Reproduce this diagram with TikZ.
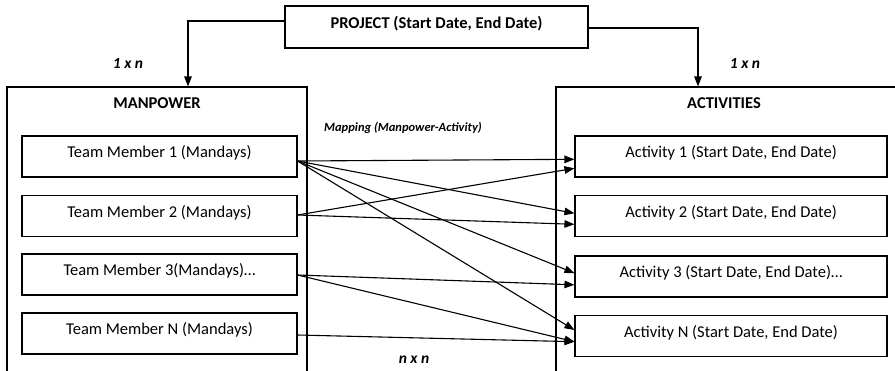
\documentclass[tikz,border=0pt]{standalone}
\usepackage{fontspec}
\setmainfont{Carlito}
\usetikzlibrary{arrows.meta}
\begin{document}
\begin{tikzpicture}[x=1pt,y=-1pt,
  every node/.style={inner sep=0pt},
  box/.style={draw, line width=1.1pt, font=\fontsize{16.5}{20}\selectfont,
    text height=10pt, text depth=8pt},
  itembox/.style={box, minimum height=41pt},
  container/.style={draw, line width=1.1pt},
  title/.style={font=\fontsize{16.5}{20}\selectfont\bfseries},
  card/.style={font=\fontsize{15.5}{18}\selectfont\bfseries\itshape},
  link/.style={line width=1.1pt, -{Triangle[length=10pt,width=7.5pt]}},
]
\useasboundingbox (0,0) rectangle (895,370);
\clip (0,0) rectangle (895,370);

% project box on top
\node[box, title, minimum width=303pt, minimum height=42pt] (project) at (436.5,27) {PROJECT (Start Date, End Date)};

% the two open containers
\node[container, minimum width=300pt, minimum height=333pt] (manpower) at (157,253.5) {};
\node[container, minimum width=354pt, minimum height=333pt] (activities) at (733,253.5) {};
\node[title] (mplabel) at (157,103) {MANPOWER};
\node[title] (aclabel) at (724,103) {ACTIVITIES};

% team members
\node[itembox, minimum width=275pt] (tm1) at (159.5,156.5) {Team Member 1 (Mandays)};
\node[itembox, minimum width=275pt] (tm2) at (159.5,216) {Team Member 2 (Mandays)};
\node[itembox, minimum width=275pt] (tm3) at (159.5,274.5) {Team Member 3(Mandays)…};
\node[itembox, minimum width=275pt] (tm4) at (159.5,333.5) {Team Member N (Mandays)};

% activities
\node[itembox, minimum width=312pt] (a1) at (731,156.5) {Activity 1 (Start Date, End Date)};
\node[itembox, minimum width=312pt] (a2) at (731,216) {Activity 2 (Start Date, End Date)};
\node[itembox, minimum width=312pt] (a3) at (731,276.5) {Activity 3 (Start Date, End Date)…};
\node[itembox, minimum width=312pt] (a4) at (731,336) {Activity N (Start Date, End Date)};

% cardinality labels
\node[card] (cleft) at (128,63) {1 x n};
\node[card] (cright) at (745,63) {1 x n};
\node[card] (cmap) at (414,360) {n x n};
\node[font=\fontsize{12.5}{15}\selectfont\bfseries\itshape] (maplabel) at (403,128) {Mapping (Manpower-Activity)};

% project to containers
\draw[link] ([yshift=6pt]project.west) -| ([xshift=31pt]manpower.north);
\draw[link] ([yshift=-1pt]project.east) -| ([xshift=-35pt]activities.north);

% member-to-activity mapping
\draw[link] ([yshift=-4.5pt]tm1.east) -- ([yshift=-2.8pt]a1.west);
\draw[link] ([yshift=-4.5pt]tm1.east) -- ([yshift=2.7pt]a2.west);
\draw[link] ([yshift=-4.5pt]tm1.east) -- ([yshift=3.4pt]a3.west);
\draw[link] ([yshift=-4.5pt]tm1.east) -- ([yshift=6pt]a4.west);
\draw[link] ([yshift=1pt]tm2.east) -- ([yshift=-11.8pt]a1.west);
\draw[link] ([yshift=1pt]tm2.east) -- ([yshift=-8.3pt]a2.west);
\draw[link] ([yshift=-0.5pt]tm3.east) -- ([yshift=-8.3pt]a3.west);
\draw[link] ([yshift=-0.5pt]tm3.east) -- ([yshift=-5.7pt]a4.west);
\draw[link] ([yshift=-1.5pt]tm4.east) -- ([yshift=-5.7pt]a4.west);
\end{tikzpicture}
\end{document}
